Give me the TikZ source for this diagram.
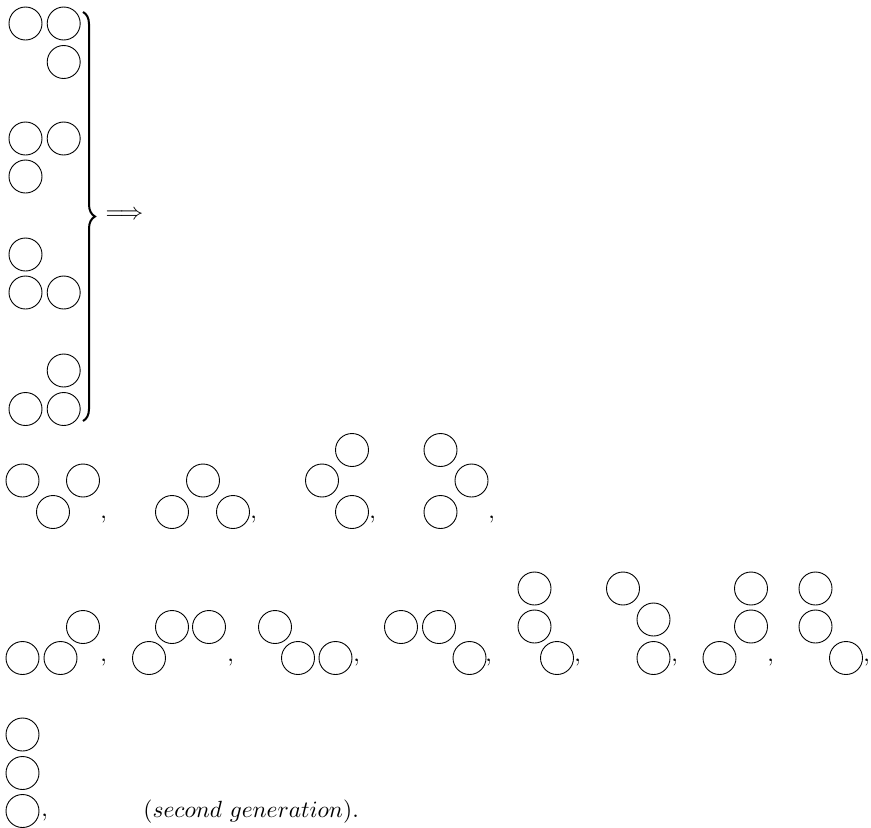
\documentclass[tikz,border=0pt]{standalone}
\usepackage{amsmath}
\usetikzlibrary{decorations.pathreplacing}
\begin{document}
\begin{tikzpicture}[x=1pt,y=-1pt,
  ball/.style={circle,draw,minimum size=33pt,inner sep=0pt,line width=0.9pt},
  sep/.style={anchor=base west,inner sep=0pt,scale=2.34},
  txt/.style={anchor=base west,inner sep=0pt,scale=2.34}]
\useasboundingbox (0,0) rectangle (871,828);
% top groups
\node[ball] (t1a) at (25.5,23.5) {};
\node[ball] (t1b) at (63.7,23.5) {};
\node[ball] (t1c) at (63.7,62) {};
\node[ball] (t2a) at (25.5,138.5) {};
\node[ball] (t2b) at (63.7,138.5) {};
\node[ball] (t2c) at (25.5,176.5) {};
\node[ball] (t3a) at (25.5,254.5) {};
\node[ball] (t3b) at (25.5,292.5) {};
\node[ball] (t3c) at (63.7,292.5) {};
\node[ball] (t4a) at (63.7,370.5) {};
\node[ball] (t4b) at (25.5,409) {};
\node[ball] (t4c) at (63.7,409) {};
% brace and arrow
\coordinate (bt) at (83,12);
\coordinate (bb) at (83,421);
\draw[decorate,decoration={brace,amplitude=12pt},line width=2pt] (bt) -- (bb);
\node[inner sep=0pt,scale=2.34] (arr) at (124.5,215) {$\Longrightarrow$};
% row 1
\node[ball] (aa) at (22.5,480.5) {};
\node[ball] (ab) at (53,512) {};
\node[ball] (ac) at (83,480.5) {};
\node[sep] (ca) at (100,518) {$,$};
\node[ball] (ba) at (172,512) {};
\node[ball] (bb2) at (203,480.5) {};
\node[ball] (bc) at (233,512) {};
\node[sep] (cb) at (250,518) {$,$};
\node[ball] (da) at (322,480.5) {};
\node[ball] (db) at (352,450) {};
\node[ball] (dc) at (352,512) {};
\node[sep] (cc) at (369,518) {$,$};
\node[ball] (ea) at (440.5,450) {};
\node[ball] (eb) at (471.5,480.5) {};
\node[ball] (ec) at (440.5,512) {};
\node[sep] (cd) at (488,518) {$,$};
% row 2
\node[ball] (g1a) at (22.5,658) {};
\node[ball] (g1b) at (60.5,658) {};
\node[ball] (g1c) at (83,627) {};
\node[sep] (c1) at (100,661) {$,$};
\node[ball] (g2a) at (149,658) {};
\node[ball] (g2b) at (172,627) {};
\node[ball] (g2c) at (209,627) {};
\node[sep] (c2) at (227,661) {$,$};
\node[ball] (g3a) at (275,627) {};
\node[ball] (g3b) at (298,658) {};
\node[ball] (g3c) at (335.5,658) {};
\node[sep] (c3) at (353,661) {$,$};
\node[ball] (g4a) at (401,627) {};
\node[ball] (g4b) at (439,627) {};
\node[ball] (g4c) at (469.5,658) {};
\node[sep] (c4) at (485,661) {$,$};
\node[ball] (g5a) at (534.5,588.5) {};
\node[ball] (g5b) at (534.5,626.5) {};
\node[ball] (g5c) at (557,658) {};
\node[sep] (c5) at (574,661) {$,$};
\node[ball] (g6a) at (623,588.5) {};
\node[ball] (g6b) at (653.5,619.5) {};
\node[ball] (g6c) at (653.5,658) {};
\node[sep] (c6) at (671,661) {$,$};
\node[ball] (g7a) at (751,588.5) {};
\node[ball] (g7b) at (751,626.5) {};
\node[ball] (g7c) at (719.5,658) {};
\node[sep] (c7) at (767,661) {$,$};
\node[ball] (g8a) at (815.5,588.5) {};
\node[ball] (g8b) at (815.5,626.5) {};
\node[ball] (g8c) at (846,658) {};
\node[sep] (c8) at (863,661) {$,$};
% row 3
\node[ball] (h1) at (22.5,734.5) {};
\node[ball] (h2) at (22.5,773) {};
\node[ball] (h3) at (22.5,811) {};
\node[sep] (c9) at (41,816) {$,$};
\node[txt] (lab) at (143,817) {$(second\ generation).$};
\end{tikzpicture}
\end{document}
